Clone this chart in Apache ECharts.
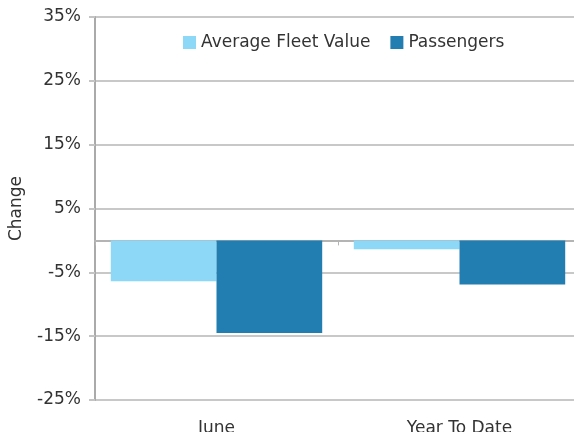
<!DOCTYPE html>
<html>
<head>
<meta charset="utf-8">
<script src="https://cdn.jsdelivr.net/npm/echarts@6/dist/echarts.min.js"></script>
<style>
  html, body { margin: 0; padding: 0; background: #fff; }
  #chart { width: 574px; height: 432px; }
</style>
</head>
<body>
<div id="chart"></div>
<script>
var categories = ['June', 'Year To Date'];
var fleetValue = [-6.4, -1.4];
var passengers = [-14.5, -6.9];
var seriesNames = ['Average Fleet Value', 'Passengers'];

var font = 'DejaVu Sans';
var chart = echarts.init(document.getElementById('chart'), null, { renderer: 'canvas' });

var option = {
    animation: false,
    color: ['#8dd7f7', '#227db0'],
    legend: {
        left: 178,
        top: 29,
        itemWidth: 13,
        itemHeight: 13,
        itemGap: 20,
        icon: 'rect',
        textStyle: { fontFamily: font, fontSize: 17, color: '#333' },
        data: seriesNames
    },
    grid: { left: 95, right: -7, top: 17, bottom: 32, containLabel: false, outerBoundsMode: 'none' },
    xAxis: [
        {
            // line at zero with the category ticks
            type: 'category',
            data: categories,
            axisLine: { onZero: true, lineStyle: { color: '#b4b4b4', width: 2 } },
            axisTick: { show: true, length: 5, lineStyle: { color: '#b4b4b4' } },
            axisLabel: { show: false },
            splitLine: { show: false }
        },
        {
            // labels along the bottom
            type: 'category',
            data: categories,
            position: 'bottom',
            axisLine: { show: false, onZero: false },
            axisTick: { show: false },
            axisLabel: { show: true, margin: 20, fontFamily: font, fontSize: 17, color: '#333' },
            splitLine: { show: false }
        }
    ],
    yAxis: {
        type: 'value',
        min: -25,
        max: 35,
        interval: 10,
        name: 'Change',
        nameLocation: 'middle',
        nameGap: 70,
        nameTextStyle: { fontFamily: font, fontSize: 17, color: '#333' },
        axisLine: { show: true, lineStyle: { color: '#aaa', width: 2 } },
        axisTick: { show: true, length: 6, lineStyle: { color: '#c4c4c4', width: 2 } },
        axisLabel: {
            margin: 14,
            fontFamily: font, fontSize: 17, color: '#333',
            formatter: function (v) { return v + '%'; }
        },
        splitLine: { show: true, lineStyle: { color: '#c8c8c8', width: 2 } }
    },
    series: [
        {
            name: seriesNames[0],
            type: 'bar',
            xAxisIndex: 0,
            data: fleetValue,
            barGap: '0%',
            barCategoryGap: '13%'
        },
        {
            name: seriesNames[1],
            type: 'bar',
            xAxisIndex: 0,
            data: passengers,
            barGap: '0%',
            barCategoryGap: '13%'
        }
    ]
};

chart.setOption(option);
</script>
</body>
</html>
